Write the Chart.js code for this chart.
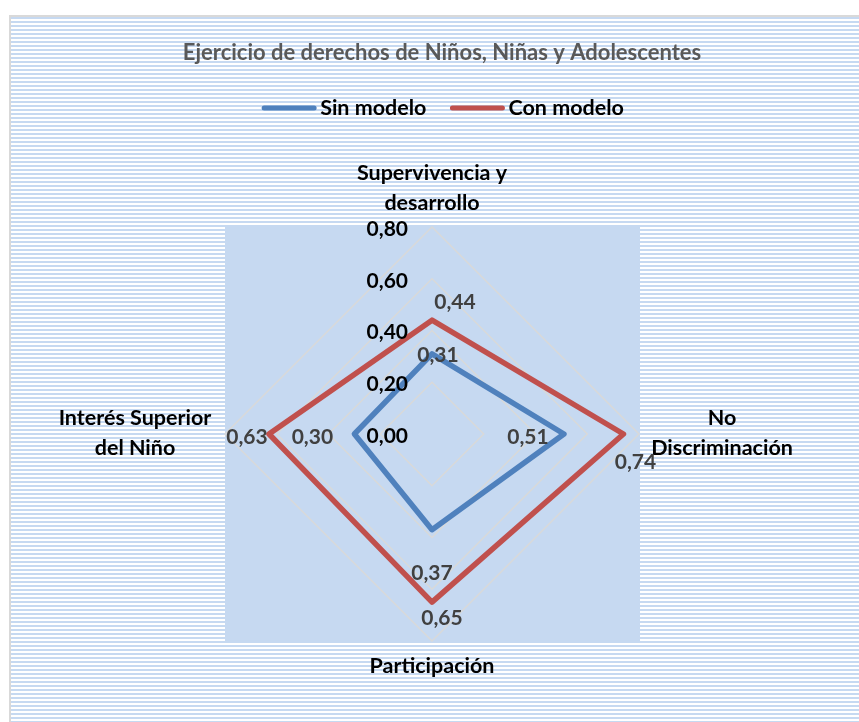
<!DOCTYPE html>
<html>
<head>
<meta charset="utf-8">
<script src="https://cdn.jsdelivr.net/npm/chart.js@4.4.1/dist/chart.umd.min.js"></script>
<style>
  html, body { margin: 0; padding: 0; background: #ffffff; width: 859px; height: 722px; overflow: hidden; }
  #frame {
    position: absolute; left: 9px; top: 15px; width: 860px; height: 720px;
    border-left: 2px solid #d9d9d9; border-top: 2px solid #d9d9d9;
    background: repeating-linear-gradient(to bottom, #c6d9f1 0px, #c6d9f1 2px, #ffffff 2px, #ffffff 4px);
  }
  #wrap { position: absolute; left: 0; top: 0; width: 859px; height: 722px; }
</style>
</head>
<body>
<div id="frame"></div>
<div id="wrap"><canvas id="c" width="859" height="722"></canvas></div>
<script>
const chartTitle = "Ejercicio de derechos de Niños, Niñas y Adolescentes";
const categories = [["Supervivencia y", "desarrollo"], ["No", "Discriminación"], ["Participación"], ["Interés Superior", "del Niño"]];
const seriesNames = ["Sin modelo", "Con modelo"];
const sinModelo = [0.31, 0.51, 0.37, 0.30];
const conModelo = [0.44, 0.74, 0.65, 0.63];
const tickValues = [0, 0.2, 0.4, 0.6, 0.8];

const FONT = "Lato";
const fmt = v => v.toFixed(2).replace(".", ",");

// offsets of each data label from its point [dx, dy]
const labelOffsets = [
  [[6, 1], [-36, 3], [0, 43], [-42, 3]],
  [[23, -18], [12, 28], [10, 16], [-22, 3]]
];
// point-label anchor offsets from the scale centre [dx, dy]
const pointLabelPos = [
  { dx: 0, dy: -261 },
  { dx: 290, dy: -16 },
  { dx: 0, dy: 232 },
  { dx: -297, dy: -16 }
];

const plotBg = {
  id: "plotBg",
  beforeDraw(chart) {
    const { ctx, chartArea: a } = chart;
    ctx.save();
    ctx.fillStyle = "#c6d9f1";
    ctx.fillRect(a.left, a.top, a.right - a.left, a.bottom - a.top);
    ctx.restore();
  }
};

const customText = {
  id: "customText",
  afterDraw(chart) {
    const ctx = chart.ctx;
    const r = chart.scales.r;
    ctx.save();
    // title
    ctx.font = `bold 22px ${FONT}`;
    ctx.fillStyle = "#595959";
    ctx.textAlign = "center";
    ctx.textBaseline = "middle";
    ctx.fillText(chartTitle, 442, 53);

    // legend
    ctx.font = `bold 21.5px ${FONT}`;
    const legendItems = chart.data.datasets.map(d => ({ text: d.label, color: d.borderColor }));
    const lineW = 54, gapT = 4, gapItems = 24;
    const widths = legendItems.map(it => lineW + gapT + ctx.measureText(it.text).width);
    const total = widths.reduce((a, b) => a + b, 0) + gapItems * (legendItems.length - 1);
    let x = 443 - total / 2;
    const ly = 108;
    legendItems.forEach((it, i) => {
      ctx.strokeStyle = it.color;
      ctx.lineWidth = 5;
      ctx.lineCap = "round";
      ctx.beginPath();
      ctx.moveTo(x + 2, ly);
      ctx.lineTo(x + lineW - 2, ly);
      ctx.stroke();
      ctx.fillStyle = "#000000";
      ctx.textAlign = "left";
      ctx.fillText(it.text, x + lineW + gapT, ly);
      x += widths[i] + gapItems;
    });

    // tick labels (left of the vertical axis)
    ctx.font = `bold 21px ${FONT}`;
    ctx.fillStyle = "#000000";
    ctx.textAlign = "right";
    tickValues.forEach(v => {
      const d = r.getDistanceFromCenterForValue(v);
      ctx.fillText(fmt(v), r.xCenter - 24, r.yCenter - d + 2);
    });

    // point labels
    ctx.font = `bold 21.5px ${FONT}`;
    ctx.fillStyle = "#000000";
    ctx.textAlign = "center";
    categories.forEach((lines, i) => {
      const p = pointLabelPos[i];
      lines.forEach((ln, j) => {
        ctx.fillText(ln, r.xCenter + p.dx, r.yCenter + p.dy + j * 30);
      });
    });

    // data labels
    ctx.font = `bold 21px ${FONT}`;
    ctx.fillStyle = "#404040";
    ctx.textAlign = "center";
    chart.data.datasets.forEach((ds, di) => {
      const meta = chart.getDatasetMeta(di);
      meta.data.forEach((pt, i) => {
        const o = labelOffsets[di][i];
        ctx.fillText(fmt(ds.data[i]), pt.x + o[0], pt.y + o[1]);
      });
    });
    ctx.restore();
  }
};

new Chart(document.getElementById("c"), {
  type: "radar",
  data: {
    labels: categories,
    datasets: [
      { label: seriesNames[0], data: sinModelo, borderColor: "#4f81bd", backgroundColor: "rgba(0,0,0,0)", borderWidth: 5.5, pointRadius: 0, fill: false, borderJoinStyle: "round" },
      { label: seriesNames[1], data: conModelo, borderColor: "#c0504d", backgroundColor: "rgba(0,0,0,0)", borderWidth: 5.5, pointRadius: 0, fill: false, borderJoinStyle: "round" }
    ]
  },
  options: {
    responsive: false,
    animation: false,
    layout: { padding: { left: 225, right: 219, top: 226, bottom: 80 } },
    plugins: { legend: { display: false }, title: { display: false }, tooltip: { enabled: false } },
    scales: {
      r: {
        min: 0, max: 0.8,
        ticks: { display: false, stepSize: 0.2 },
        pointLabels: { display: false },
        angleLines: { display: false },
        grid: { color: "#d9d9d9", lineWidth: 1.5, circular: false }
      }
    }
  },
  plugins: [plotBg, customText]
});
</script>
</body>
</html>
